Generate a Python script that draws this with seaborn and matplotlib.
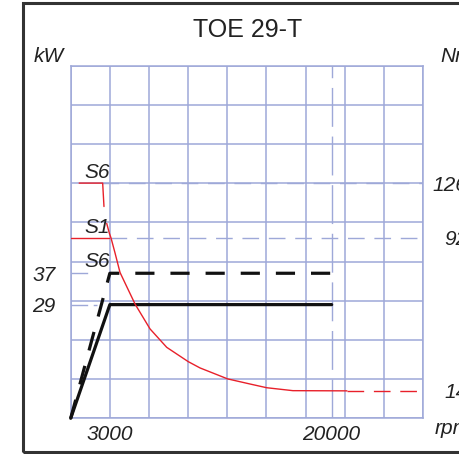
import numpy as np
import matplotlib
matplotlib.use("Agg")
import matplotlib.pyplot as plt
from matplotlib.patches import Rectangle
import seaborn as sns

# ---------------- data ----------------
title = "TOE 29-T"

# power curves (kW vs rpm)
s1_power_rpm = [0, 3000, 20000]
s1_power_kw = [0, 29, 29]
s6_power_rpm = [0, 3000, 20000]
s6_power_kw = [0, 37, 37]

# torque curves (Nm vs rpm)
s6_torque_rpm = [650, 2450, 2550]
s6_torque_nm = [126, 126, 111.5]
s1_base_rpm = [0, 2900]
s1_base_nm = [92, 92]
s1_curve_rpm = [2760, 2960, 3090, 3395, 3780, 4315, 4940, 6080, 7360, 9010,
                9910, 12030, 13740, 15020, 17030, 21170]
s1_curve_nm = [101, 95, 92, 84.4, 74.4, 66.9, 58.2, 45.6, 36.2, 28.9,
               25.7, 20.1, 17.5, 15.6, 14.1, 14]
s1_ext_rpm = [21170, 26610]
s1_ext_nm = [14, 14]

# reference lines
torque_ref_nm = [126, 92]
torque_ref_start_rpm = [2400, 3010]
power_ref_kw = [37, 29]
power_ref_end_rpm = [1300, 2000]

# ticks
rpm_ticks = [3000, 20000]
rpm_tick_labels = ["3000", "20000"]
kw_ticks = [29, 37]
kw_tick_labels = ["29", "37"]
nm_ticks = [14, 92, 126]
nm_tick_labels = ["14", "92", "126"]

# schematic (non-linear) torque axis mapping Nm -> chart units
nm_knots = [0, 92, 126, 200]
unit_knots = [0, 46, 60, 90]

# ---------------- style ----------------
sns.set_style("white")
plt.rcParams["font.family"] = ["Liberation Sans", "DejaVu Sans"]
GRID = "#9ea8d8"
RED = "#e8202a"
INK = "#222222"
LBL = dict(family=["Liberation Sans", "DejaVu Sans"], style="italic",
           fontsize=15, color=INK)

W, H = 460, 454
fig = plt.figure(figsize=(W / 100, H / 100), dpi=100)
fig.patch.set_facecolor("white")

ax = fig.add_axes([70.7 / W, 1 - 418.3 / H, (423 - 70.7) / W, (418.3 - 65.5) / H])
ax.set_xlim(0, 27000)
ax.set_ylim(0, 90)
ax.xaxis.remove_overlapping_locs = False
ax.yaxis.remove_overlapping_locs = False
ax.set_xticks(np.arange(0, 27001, 3000), minor=True)
ax.set_yticks(np.arange(0, 91, 10), minor=True)
ax.set_xticks(rpm_ticks)
ax.set_xticklabels(rpm_tick_labels)
ax.set_yticks(kw_ticks)
ax.set_yticklabels(kw_tick_labels)
ax.grid(which="minor", color=GRID, lw=1.1)
ax.grid(which="major", visible=False)
ax.set_axisbelow(True)
ax.tick_params(which="both", length=0)
ax.tick_params(axis="x", pad=5)
ax.tick_params(axis="y", pad=11)
for lbl in ax.get_xticklabels() + ax.get_yticklabels():
    lbl.set_fontstyle("italic")
    lbl.set_fontsize(15)
    lbl.set_color(INK)
for s in ax.spines.values():
    s.set_color(GRID)
    s.set_linewidth(1.1)
ax.set_xlabel("")
ax.set_ylabel("")

# reference dashed blue lines
ax.axvline(rpm_ticks[1], color=GRID, lw=1.0, linestyle=(0, (28, 7)), zorder=1)
for kw, xe in zip(power_ref_kw, power_ref_end_rpm):
    ax.plot([0, xe], [kw, kw], color=GRID, lw=1.0, linestyle=(0, (12, 4)), zorder=1)

# power curves
sns.lineplot(x=s1_power_rpm, y=s1_power_kw, ax=ax, color="#111111", lw=2.3,
             sort=False, estimator=None, clip_on=False, zorder=4)
sns.lineplot(x=s6_power_rpm, y=s6_power_kw, ax=ax, color="#111111", lw=2.3,
             sort=False, estimator=None, clip_on=False, zorder=4,
             linestyle=(0, (6.0, 5.0)))

# torque axis
ax2 = ax.twinx()
fwd = lambda v: np.interp(v, nm_knots, unit_knots)
inv = lambda v: np.interp(v, unit_knots, nm_knots)
ax2.set_yscale("function", functions=(fwd, inv))
ax2.set_ylim(0, 200)
ax2.set_xlim(0, 27000)
ax2.set_yticks(nm_ticks)
ax2.set_yticklabels(nm_tick_labels)
ax2.set_yticks([], minor=True)
ax2.tick_params(length=0, pad=32)
for lbl in ax2.get_yticklabels():
    lbl.set_ha("right")
    lbl.set_fontstyle("italic")
    lbl.set_fontsize(15)
    lbl.set_color(INK)
for s in ax2.spines.values():
    s.set_visible(False)
ax2.grid(False)

for nm, xs in zip(torque_ref_nm, torque_ref_start_rpm):
    ax2.plot([xs, 27000], [nm, nm], color=GRID, lw=1.0, linestyle=(0, (12, 7)), zorder=1)

sns.lineplot(x=s6_torque_rpm, y=s6_torque_nm, ax=ax2, color=RED, lw=1.0,
             sort=False, estimator=None)
sns.lineplot(x=s1_base_rpm, y=s1_base_nm, ax=ax2, color=RED, lw=1.0,
             sort=False, estimator=None)
sns.lineplot(x=s1_curve_rpm, y=s1_curve_nm, ax=ax2, color=RED, lw=1.0,
             sort=False, estimator=None)
sns.lineplot(x=s1_ext_rpm, y=s1_ext_nm, ax=ax2, color=RED, lw=1.0,
             sort=False, estimator=None, linestyle=(0, (12, 7)))
ax2.set_ylabel("")

# curve labels
ax.text(2015, 62.7, "S6", ha="center", va="center", **LBL)
ax.text(2015, 48.6, "S1", ha="center", va="center", **LBL)
ax.text(2015, 39.9, "S6", ha="center", va="center", **LBL)

# axis unit labels and title
fig.text(48.5 / W, 1 - 56 / H, "kW", ha="center", va="center", **LBL)
fig.text(440 / W, 1 - 56 / H, "Nm", ha="left", va="center", **LBL)
fig.text(435 / W, 1 - 428 / H, "rpm", ha="left", va="center", **LBL)
fig.text(247.5 / W, 1 - 30 / H, title, ha="center", va="center",
         fontsize=18, color=INK, family=["Liberation Sans", "DejaVu Sans"])

# outer frame
fig.patches.append(Rectangle((23 / W, 2 / H), 1.0, (452 - 3) / H,
                             transform=fig.transFigure, fill=False,
                             edgecolor="#333333", lw=2.2, clip_on=False))

fig.savefig("out.png", dpi=100)
